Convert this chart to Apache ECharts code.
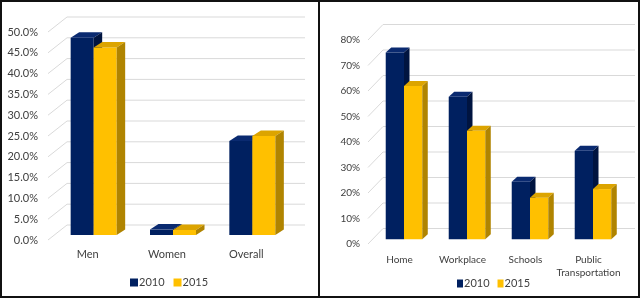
<!DOCTYPE html>
<html>
<head>
<meta charset="utf-8">
<script src="https://cdn.jsdelivr.net/npm/echarts@6/dist/echarts.min.js"></script>
<style>
  html, body { margin: 0; padding: 0; background: #fff; }
  #chart { width: 640px; height: 298px; }
</style>
</head>
<body>
<div id="chart"></div>
<script>
// left panel: share by group
const leftCategories = ['Men', 'Women', 'Overall']
const left2010 = [47.4, 1.3, 22.6]
const left2015 = [45.1, 1.2, 23.8]
const leftTicks = [0, 5, 10, 15, 20, 25, 30, 35, 40, 45, 50]

// right panel: share by place
const rightCategories = ['Home', 'Workplace', 'Schools', 'Public Transportation']
const right2010 = [73.3, 55.9, 22.6, 34.7]
const right2015 = [60.1, 42.6, 16.3, 19.7]
const rightTicks = [0, 10, 20, 30, 40, 50, 60, 70, 80]

const years = ['2010', '2015']

// faux 3d look: wall depth, bar shift from front plane, bar depth
const leftGeo = { wall: [19, -15], shift: [6, -5], depth: [8.5, -5.5] }
const rightGeo = { wall: [15, -15.5], shift: [4.5, -4.7], depth: [5.5, -5] }

const navy = { front: '#002060', top: '#0a2a70', side: '#001440' }
const gold = { front: '#ffc000', top: '#dca400', side: '#b08400' }

const textColor = '#404040'
const gridColor = '#d9d9d9'
const narrowFont = '"Liberation Sans Narrow", Lato, sans-serif'

/**
 * back wall grid lines + diagonal to front
 */
const wallRender = (geo) => (params, api) => {
  const cs = params.coordSys
  const y = api.coord([0, api.value(1)])[1]
  const [dx, dy] = geo.wall
  return {
    type: 'group',
    children: [
      { type: 'line', shape: { x1: cs.x, y1: y, x2: cs.x + dx, y2: y + dy }, style: { stroke: gridColor, lineWidth: 1 } },
      { type: 'line', shape: { x1: cs.x + dx, y1: y + dy, x2: cs.x + cs.width + dx, y2: y + dy }, style: { stroke: gridColor, lineWidth: 1 } }
    ]
  }
}

/**
 * one 3d bar: front, top, side
 */
const barRender = (idx, geo, colors) => (params, api) => {
  const cat = api.value(0)
  const base = api.coord([cat, 0])
  const tip = api.coord([cat, api.value(1)])
  const bw = api.size([1, 0])[0] * 0.29
  const x0 = base[0] + geo.shift[0] - (idx === 0 ? bw : 0)
  const yb = base[1] + geo.shift[1]
  const yt = tip[1] + geo.shift[1]
  const [dx, dy] = geo.depth
  return {
    type: 'group',
    children: [
      { type: 'rect', shape: { x: x0, y: yt, width: bw, height: yb - yt }, style: { fill: colors.front } },
      { type: 'polygon', shape: { points: [[x0, yt], [x0 + bw, yt], [x0 + bw + dx, yt + dy], [x0 + dx, yt + dy]] }, style: { fill: colors.top } },
      { type: 'polygon', shape: { points: [[x0 + bw, yt], [x0 + bw + dx, yt + dy], [x0 + bw + dx, yb + dy], [x0 + bw, yb]] }, style: { fill: colors.side } }
    ]
  }
}

const toData = (arr) => arr.map((v, i) => [i, v])

const chart = echarts.init(document.getElementById('chart'))

const option = {
  animation: false,
  textStyle: { fontFamily: 'Lato, "Open Sans", sans-serif' },
  graphic: [
    { type: 'rect', shape: { x: 1, y: 1, width: 638, height: 296 }, style: { fill: 'none', stroke: '#111', lineWidth: 2 } },
    { type: 'line', shape: { x1: 319, y1: 0, x2: 319, y2: 298 }, style: { stroke: '#111', lineWidth: 2 } }
  ],
  grid: [
    { left: 48, top: 32, width: 238, height: 208 },
    { left: 368, top: 40, width: 252, height: 204 }
  ],
  xAxis: [
    {
      gridIndex: 0, type: 'category', data: leftCategories,
      axisLine: { show: false }, axisTick: { show: false },
      axisLabel: { color: textColor, fontSize: 11, margin: 9, interval: 0 }
    },
    {
      gridIndex: 1, type: 'category', data: rightCategories,
      axisLine: { show: false }, axisTick: { show: false },
      axisLabel: {
        color: textColor, fontSize: 10, margin: 9, interval: 0, lineHeight: 13,
        fontFamily: narrowFont,
        formatter: (v) => v.replace(' ', '\n')
      }
    }
  ],
  yAxis: [
    {
      gridIndex: 0, type: 'value', min: 0, max: 50, interval: 5,
      axisLine: { show: false }, axisTick: { show: false }, splitLine: { show: false },
      axisLabel: { color: textColor, fontSize: 11, margin: 10, formatter: (v) => v.toFixed(1) + '%' }
    },
    {
      gridIndex: 1, type: 'value', min: 0, max: 80, interval: 10,
      axisLine: { show: false }, axisTick: { show: false }, splitLine: { show: false },
      axisLabel: {
        color: textColor, fontSize: 10, margin: 8,
        fontFamily: narrowFont,
        formatter: (v) => v + '%'
      }
    }
  ],
  legend: [
    {
      left: 125, top: 272, itemWidth: 8, itemHeight: 8, itemGap: 9, icon: 'rect',
      textStyle: { color: textColor, fontSize: 11, padding: [0, 0, 0, -4] },
      data: [{ name: years[0], itemStyle: { color: navy.front } }, { name: years[1], itemStyle: { color: gold.front } }]
    },
    {
      left: 452, top: 273, itemWidth: 6, itemHeight: 8, itemGap: 8, icon: 'rect',
      textStyle: { color: textColor, fontSize: 11, padding: [0, 0, 0, -4], fontFamily: narrowFont },
      data: [{ name: years[0], itemStyle: { color: navy.front } }, { name: years[1], itemStyle: { color: gold.front } }]
    }
  ],
  series: [
    {
      name: 'leftWall', type: 'custom', xAxisIndex: 0, yAxisIndex: 0, z: 1,
      renderItem: wallRender(leftGeo), data: leftTicks.map((v) => [0, v]), silent: true
    },
    {
      name: 'rightWall', type: 'custom', xAxisIndex: 1, yAxisIndex: 1, z: 1,
      renderItem: wallRender(rightGeo), data: rightTicks.map((v) => [0, v]), silent: true
    },
    {
      name: years[0], type: 'custom', xAxisIndex: 0, yAxisIndex: 0, z: 2,
      itemStyle: { color: navy.front }, encode: { x: 0, y: 1 },
      renderItem: barRender(0, leftGeo, navy), data: toData(left2010)
    },
    {
      name: years[1], type: 'custom', xAxisIndex: 0, yAxisIndex: 0, z: 3,
      itemStyle: { color: gold.front }, encode: { x: 0, y: 1 },
      renderItem: barRender(1, leftGeo, gold), data: toData(left2015)
    },
    {
      name: years[0], type: 'custom', xAxisIndex: 1, yAxisIndex: 1, z: 2,
      itemStyle: { color: navy.front }, encode: { x: 0, y: 1 },
      renderItem: barRender(0, rightGeo, navy), data: toData(right2010)
    },
    {
      name: years[1], type: 'custom', xAxisIndex: 1, yAxisIndex: 1, z: 3,
      itemStyle: { color: gold.front }, encode: { x: 0, y: 1 },
      renderItem: barRender(1, rightGeo, gold), data: toData(right2015)
    }
  ]
}

chart.setOption(option)
</script>
</body>
</html>
